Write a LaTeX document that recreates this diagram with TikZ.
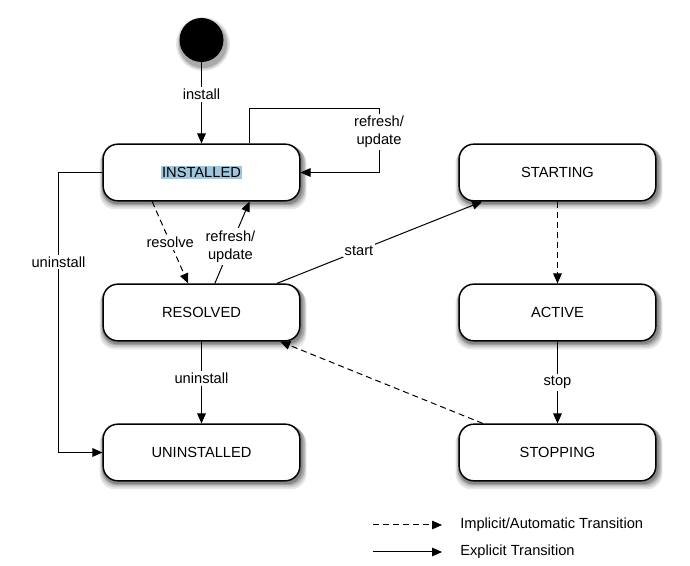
\documentclass[tikz,border=0pt]{standalone}
\usepackage{fontspec}
\setmainfont{Liberation Sans}
\usetikzlibrary{arrows.meta}
\definecolor{selblue}{RGB}{160,198,222}
\definecolor{shadeA}{RGB}{232,232,232}
\definecolor{shadeB}{RGB}{205,205,205}
\definecolor{shadeC}{RGB}{170,170,170}
\definecolor{shadeD}{RGB}{135,135,135}

\begin{document}
\begin{tikzpicture}[x=0.75pt,y=-0.75pt,
    state/.style={draw, line width=1.1pt, rounded corners=11pt, fill=white,
      minimum width=147.5pt, minimum height=42.5pt,
      font=\fontsize{11}{14}\selectfont},
    trans/.style={line width=0.75pt, -{Triangle[length=7.5pt,width=6.5pt]}},
    autotrans/.style={trans, dash pattern=on 4.5pt off 3pt},
    lbl/.style={fill=white, inner sep=1.5pt, align=center,
      font=\fontsize{11}{14}\selectfont},
    shade ring/.style={rounded corners=12pt}]
  \useasboundingbox (0,0) rectangle (690,566);

  % Soft shadows first, lightest ring first
  \foreach \cx/\cy in {201.5/172.5,201.5/312.5,201.5/452.5,557.5/172.5,557.5/312.5,557.5/452.5} {
    \fill[shadeA, shade ring] (\cx-102,\cy-25) rectangle (\cx+105,\cy+37);
    \fill[shadeB, shade ring] (\cx-101,\cy-26) rectangle (\cx+104,\cy+35);
    \fill[shadeC, shade ring] (\cx-100,\cy-27) rectangle (\cx+103,\cy+33);
    \fill[shadeD, shade ring] (\cx-99,\cy-28) rectangle (\cx+101,\cy+32);
  }
  \fill[shadeA] (203,44) circle[radius=27];
  \fill[shadeB] (203,44) circle[radius=25.5];
  \fill[shadeC] (203,44) circle[radius=24];

  % Initial state and the states
  \node[circle, fill=black, minimum size=33pt] (init) at (201.5,40) {};
  \node[state] (installed) at (201.5,172.5)
    {{\setlength\fboxsep{1pt}\colorbox{selblue}{INSTALLED}}};
  \node[state] (resolved) at (201.5,312.5) {RESOLVED};
  \node[state] (uninstalled) at (201.5,452.5) {UNINSTALLED};
  \node[state] (starting) at (557.5,172.5) {STARTING};
  \node[state] (active) at (557.5,312.5) {ACTIVE};
  \node[state] (stopping) at (557.5,452.5) {STOPPING};

  % Transitions
  \draw[trans] (init) -- node[lbl, pos=0.4] {install} (installed);
  \coordinate (loop) at (379,109);
  \draw[trans] ([xshift=36pt]installed.north) |- (loop)
    |- node[lbl, pos=0.18] {refresh/\\update} (installed.east);
  \draw[trans] (installed.west) -- ++(-44,0)
    |- node[lbl, pos=0.16] {uninstall} (uninstalled.west);
  \draw[autotrans] ([xshift=-37pt]installed.south)
    -- node[lbl] {resolve} ([xshift=-10pt]resolved.north);
  \draw[trans] ([xshift=10pt]resolved.north)
    -- node[lbl, pos=0.45] {refresh/\\update} ([xshift=36pt]installed.south);
  \draw[trans] ([xshift=56.5pt]resolved.north)
    -- node[lbl, pos=0.4] {start} ([xshift=-56.5pt]starting.south);
  \draw[trans] (resolved) -- node[lbl, pos=0.45] {uninstall} (uninstalled);
  \draw[autotrans] (starting) -- (active);
  \draw[trans] (active) -- node[lbl] {stop} (stopping);
  \draw[autotrans] ([xshift=-56pt]stopping.north) -- ([xshift=59pt]resolved.south);

  % Legend
  \node[anchor=west, inner sep=0pt, font=\fontsize{11}{14}\selectfont] (limp) at (460,525)
    {Implicit/Automatic Transition};
  \node[anchor=west, inner sep=0pt, font=\fontsize{11}{14}\selectfont] (lexp) at (460,552)
    {Explicit Transition};
  \coordinate (imp) at (373,525);
  \coordinate (exp) at (373,552);
  \draw[autotrans] (imp) -- ([xshift=-13.5pt]limp.west);
  \draw[trans] (exp) -- ([xshift=-13.5pt]lexp.west);
\end{tikzpicture}
\end{document}
